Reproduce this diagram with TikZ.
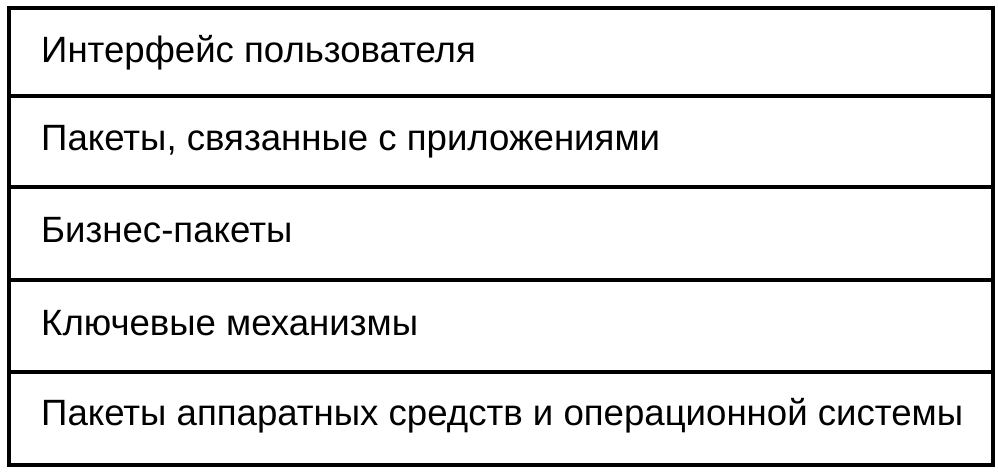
\documentclass[tikz,border=0pt]{standalone}
\usepackage{fontspec}
\setmainfont{Liberation Sans}
\begin{document}
\begin{tikzpicture}[x=1pt,y=-1pt,
  layer/.style={draw=black,line width=3.5pt,minimum width=984pt,anchor=north west,inner sep=0pt},
  lbl/.style={anchor=base west,inner sep=0pt,font=\fontsize{36.6}{42}\selectfont}]
\useasboundingbox (0,0) rectangle (998,472);
\node[layer,minimum height=88pt] (r1) at (7,6) {};
\node[layer,minimum height=91pt] (r2) at (7,94) {};
\node[layer,minimum height=93pt] (r3) at (7,185) {};
\node[layer,minimum height=92pt] (r4) at (7,278) {};
\node[layer,minimum height=93pt] (r5) at (7,370) {};
\node[lbl] (t1) at (41,62) {Интерфейс пользователя};
\node[lbl] (t2) at (41,150) {Пакеты, связанные с приложениями};
\node[lbl] (t3) at (41,242) {Бизнес-пакеты};
\node[lbl] (t4) at (41,335) {Ключевые механизмы};
\node[lbl] (t5) at (41,425) {Пакеты аппаратных средств и операционной системы};
\end{tikzpicture}
\end{document}
